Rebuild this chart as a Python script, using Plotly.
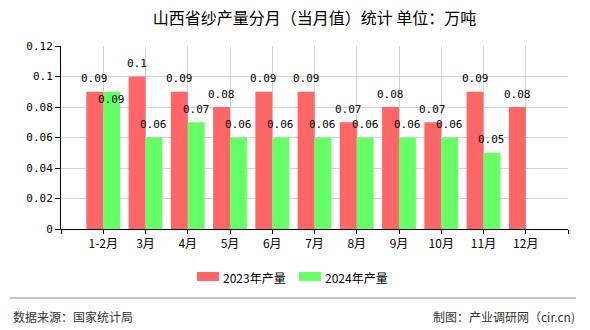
import plotly.graph_objects as go

categories = ["1-2月", "3月", "4月", "5月", "6月", "7月", "8月", "9月", "10月", "11月", "12月"]
values_2023 = [0.09, 0.1, 0.09, 0.08, 0.09, 0.09, 0.07, 0.08, 0.07, 0.09, 0.08]
values_2024 = [0.09, 0.06, 0.07, 0.06, 0.06, 0.06, 0.06, 0.06, 0.06, 0.05, None]
series_names = ["2023年产量", "2024年产量"]
yticks = [0, 0.02, 0.04, 0.06, 0.08, 0.1, 0.12]
ytick_text = ["0", "0.02", "0.04", "0.06", "0.08", "0.1", "0.12"]

RED = "#ff6666"
GREEN = "#66ff66"
FONT = "Noto Sans CJK SC"
MONO = "DejaVu Sans Mono, Liberation Mono, monospace"

W, H = 590, 330
ML, MR, MT, MB = 61, 22, 46, 101
PW, PH = W - ML - MR, H - MT - MB

def px_x(x):
    return (x - ML) / PW

def px_y(y):
    return 1 - (y - MT) / PH

xs = list(range(len(categories)))

fig = go.Figure()
fig.add_trace(go.Bar(x=xs, y=values_2023, name=series_names[0], marker_color=RED,
                     marker_line_width=0, showlegend=False))
fig.add_trace(go.Bar(x=xs, y=values_2024, name=series_names[1], marker_color=GREEN,
                     marker_line_width=0, showlegend=False))

annotations = []
for i in xs:
    a = values_2023[i]
    b = values_2024[i]
    if a is not None:
        annotations.append(dict(x=i - 0.2, y=a, xref="x", yref="y", text=f"{a:g}",
                                showarrow=False, yshift=13, yanchor="middle",
                                font=dict(size=11, color="#000", family=MONO)))
    if b is not None:
        shift = -8 if (a is not None and abs(a - b) < 0.005) else 13
        annotations.append(dict(x=i + 0.2, y=b, xref="x", yref="y", text=f"{b:g}",
                                showarrow=False, yshift=shift, yanchor="middle",
                                font=dict(size=11, color="#000", family=MONO)))

# custom legend
legend_items = [(series_names[0], RED, 197), (series_names[1], GREEN, 299)]
shapes = []
for name, col, x0 in legend_items:
    shapes.append(dict(type="rect", xref="paper", yref="paper",
                       x0=px_x(x0), x1=px_x(x0 + 22), y0=px_y(281), y1=px_y(272),
                       fillcolor=col, line_width=0))
    annotations.append(dict(x=px_x(x0 + 24), y=px_y(277), xref="paper", yref="paper",
                            text=name, showarrow=False, xanchor="left", yanchor="middle",
                            font=dict(size=12, color="#000", family=FONT)))

# footer
shapes.append(dict(type="line", xref="paper", yref="paper",
                   x0=px_x(10), x1=px_x(576), y0=px_y(298), y1=px_y(298),
                   line=dict(color="#888", width=1)))
annotations.append(dict(x=px_x(11), y=px_y(316), xref="paper", yref="paper",
                        text="数据来源：国家统计局", showarrow=False, xanchor="left",
                        yanchor="middle", font=dict(size=12, color="#333", family=FONT)))
annotations.append(dict(x=px_x(577), y=px_y(316), xref="paper", yref="paper",
                        text="制图：产业调研网（cir.cn)", showarrow=False, xanchor="right",
                        yanchor="middle", font=dict(size=12, color="#333", family=FONT)))

fig.update_layout(
    width=W, height=H,
    margin=dict(l=ML, r=MR, t=MT, b=MB),
    paper_bgcolor="white", plot_bgcolor="white",
    barmode="group", bargap=0.2, bargroupgap=0,
    title=dict(text="山西省纱产量分月（当月值）统计 单位：万吨", x=0.5, xref="paper",
               y=1 - 18 / H, yanchor="middle", xanchor="center",
               font=dict(size=16, color="#000", family=FONT)),
    font=dict(family=FONT, size=11, color="#000"),
    xaxis=dict(range=[-1, len(categories)], tickmode="array",
               tickvals=list(range(-1, len(categories) + 1)),
               ticktext=[""] + categories + [""],
               showgrid=True, gridcolor="#d3d3d3", gridwidth=1,
               showline=True, linecolor="#000", linewidth=1,
               ticks="outside", ticklen=4, tickcolor="#000",
               tickfont=dict(size=12, family=FONT, color="#000"), zeroline=False,
               fixedrange=True),
    yaxis=dict(range=[0, 0.12], tickmode="array", tickvals=yticks, ticktext=ytick_text,
               showgrid=True, gridcolor="#d3d3d3", gridwidth=1,
               showline=True, linecolor="#000", linewidth=1,
               ticks="outside", ticklen=5, tickcolor="#000",
               tickfont=dict(size=11, family=MONO, color="#000"), zeroline=False,
               fixedrange=True),
    annotations=annotations,
    shapes=shapes,
)

fig.write_html("out.html")
